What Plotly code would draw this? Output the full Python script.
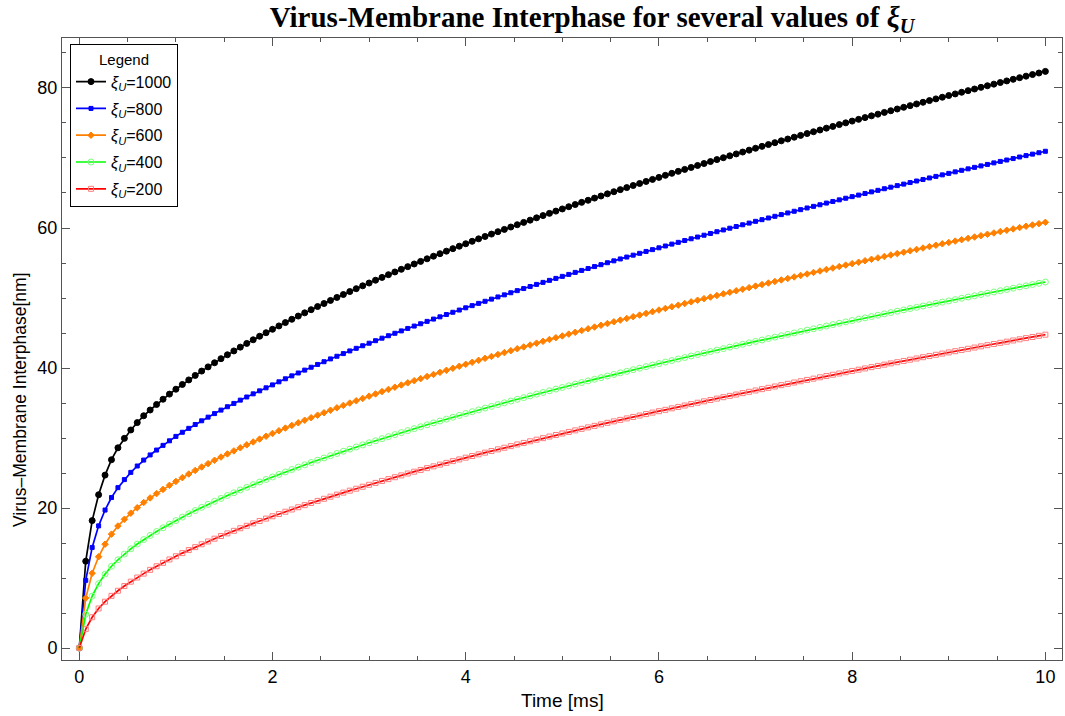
import plotly.graph_objects as go

# Sample times (ms): 151 evenly spaced samples from 0 to 10
time_ms = [round(i / 15, 4) for i in range(151)]

xi_1000 = [
    0, 12.4, 18.2, 21.9, 24.7, 26.9, 28.6, 29.95, 31.15, 32.2,
    33.18, 34.0, 34.79, 35.54, 36.27, 36.97, 37.65, 38.3, 38.94, 39.56,
    40.16, 40.75, 41.33, 41.89, 42.44, 42.98, 43.51, 44.03, 44.54, 45.04,
    45.53, 46.01, 46.49, 46.96, 47.42, 47.88, 48.33, 48.78, 49.21, 49.65,
    50.08, 50.5, 50.92, 51.33, 51.74, 52.14, 52.54, 52.94, 53.33, 53.72,
    54.1, 54.48, 54.86, 55.23, 55.6, 55.97, 56.33, 56.69, 57.05, 57.4,
    57.75, 58.1, 58.45, 58.79, 59.13, 59.47, 59.8, 60.14, 60.47, 60.8,
    61.12, 61.45, 61.77, 62.09, 62.41, 62.72, 63.04, 63.35, 63.66, 63.96,
    64.27, 64.57, 64.88, 65.18, 65.48, 65.77, 66.07, 66.36, 66.65, 66.94,
    67.23, 67.52, 67.81, 68.09, 68.37, 68.65, 68.93, 69.21, 69.49, 69.77,
    70.04, 70.31, 70.58, 70.85, 71.12, 71.39, 71.66, 71.92, 72.19, 72.45,
    72.71, 72.97, 73.23, 73.49, 73.75, 74.0, 74.26, 74.51, 74.77, 75.02,
    75.27, 75.52, 75.77, 76.02, 76.26, 76.51, 76.75, 77.0, 77.24, 77.48,
    77.72, 77.96, 78.2, 78.44, 78.68, 78.92, 79.15, 79.39, 79.62, 79.85,
    80.09, 80.32, 80.55, 80.78, 81.01, 81.24, 81.47, 81.69, 81.92, 82.14,
    82.37,
]

xi_800 = [
    0, 9.67, 14.37, 17.45, 19.71, 21.5, 22.91, 24.06, 25.09, 26.0,
    26.85, 27.58, 28.28, 28.95, 29.6, 30.23, 30.82, 31.38, 31.93, 32.46,
    32.98, 33.49, 33.99, 34.47, 34.94, 35.41, 35.86, 36.31, 36.74, 37.17,
    37.59, 38.03, 38.46, 38.88, 39.29, 39.7, 40.11, 40.51, 40.9, 41.3,
    41.68, 42.06, 42.44, 42.81, 43.18, 43.54, 43.9, 44.26, 44.61, 44.96,
    45.3, 45.65, 45.99, 46.32, 46.66, 46.99, 47.31, 47.64, 47.96, 48.28,
    48.6, 48.91, 49.23, 49.53, 49.84, 50.15, 50.45, 50.75, 51.05, 51.35,
    51.64, 51.94, 52.23, 52.52, 52.8, 53.09, 53.37, 53.66, 53.94, 54.21,
    54.49, 54.76, 55.04, 55.31, 55.58, 55.85, 56.12, 56.38, 56.65, 56.91,
    57.17, 57.43, 57.7, 57.95, 58.21, 58.46, 58.71, 58.97, 59.22, 59.47,
    59.72, 59.97, 60.21, 60.46, 60.7, 60.95, 61.19, 61.43, 61.67, 61.91,
    62.15, 62.39, 62.62, 62.86, 63.09, 63.32, 63.56, 63.79, 64.02, 64.25,
    64.48, 64.7, 64.93, 65.16, 65.38, 65.61, 65.83, 66.05, 66.27, 66.49,
    66.71, 66.93, 67.15, 67.37, 67.59, 67.8, 68.02, 68.24, 68.45, 68.66,
    68.87, 69.08, 69.3, 69.51, 69.71, 69.92, 70.14, 70.34, 70.55, 70.75,
    70.96,
]

xi_600 = [
    0, 7.13, 10.69, 13.04, 14.83, 16.27, 17.43, 18.39, 19.27, 20.05,
    20.79, 21.44, 22.06, 22.66, 23.24, 23.8, 24.34, 24.86, 25.37, 25.86,
    26.34, 26.82, 27.28, 27.73, 28.16, 28.6, 29.02, 29.44, 29.85, 30.25,
    30.65, 31.04, 31.42, 31.8, 32.17, 32.54, 32.9, 33.26, 33.61, 33.97,
    34.31, 34.66, 34.99, 35.32, 35.65, 35.98, 36.3, 36.63, 36.94, 37.26,
    37.57, 37.88, 38.19, 38.48, 38.79, 39.08, 39.38, 39.67, 39.96, 40.25,
    40.53, 40.82, 41.1, 41.38, 41.65, 41.93, 42.2, 42.47, 42.75, 43.01,
    43.28, 43.55, 43.81, 44.07, 44.33, 44.58, 44.84, 45.1, 45.35, 45.6,
    45.85, 46.1, 46.35, 46.6, 46.84, 47.08, 47.33, 47.56, 47.8, 48.04,
    48.28, 48.51, 48.75, 48.98, 49.21, 49.45, 49.68, 49.91, 50.13, 50.36,
    50.59, 50.81, 51.03, 51.26, 51.48, 51.7, 51.92, 52.14, 52.36, 52.58,
    52.79, 53.01, 53.22, 53.43, 53.65, 53.86, 54.07, 54.28, 54.49, 54.7,
    54.91, 55.11, 55.32, 55.53, 55.73, 55.93, 56.14, 56.34, 56.54, 56.74,
    56.94, 57.14, 57.34, 57.54, 57.74, 57.93, 58.13, 58.33, 58.52, 58.71,
    58.91, 59.1, 59.29, 59.49, 59.68, 59.87, 60.06, 60.25, 60.43, 60.62,
    60.81,
]

xi_400 = [
    0, 4.83, 7.42, 9.2, 10.56, 11.68, 12.61, 13.42, 14.17, 14.85,
    15.49, 16.08, 16.65, 17.18, 17.71, 18.21, 18.71, 19.18, 19.64, 20.09,
    20.52, 20.96, 21.37, 21.79, 22.18, 22.58, 22.96, 23.34, 23.72, 24.08,
    24.44, 24.8, 25.15, 25.5, 25.84, 26.17, 26.5, 26.83, 27.15, 27.48,
    27.79, 28.11, 28.41, 28.72, 29.02, 29.32, 29.61, 29.91, 30.2, 30.49,
    30.77, 31.06, 31.34, 31.61, 31.89, 32.16, 32.43, 32.7, 32.97, 33.23,
    33.5, 33.76, 34.02, 34.28, 34.52, 34.78, 35.03, 35.28, 35.53, 35.77,
    36.02, 36.27, 36.51, 36.75, 36.99, 37.22, 37.46, 37.7, 37.93, 38.16,
    38.39, 38.62, 38.86, 39.08, 39.31, 39.53, 39.76, 39.97, 40.2, 40.42,
    40.63, 40.85, 41.07, 41.29, 41.5, 41.72, 41.93, 42.14, 42.35, 42.56,
    42.77, 42.98, 43.18, 43.39, 43.6, 43.8, 44.0, 44.21, 44.41, 44.61,
    44.81, 45.01, 45.21, 45.41, 45.6, 45.8, 46.0, 46.2, 46.39, 46.58,
    46.78, 46.97, 47.16, 47.35, 47.54, 47.73, 47.92, 48.11, 48.3, 48.49,
    48.67, 48.86, 49.04, 49.23, 49.41, 49.59, 49.77, 49.96, 50.14, 50.32,
    50.5, 50.68, 50.86, 51.04, 51.22, 51.4, 51.58, 51.75, 51.93, 52.1,
    52.28,
]

xi_200 = [
    0, 2.7, 4.4, 5.65, 6.62, 7.45, 8.18, 8.85, 9.48, 10.07,
    10.63, 11.17, 11.68, 12.17, 12.65, 13.11, 13.56, 13.99, 14.41, 14.82,
    15.22, 15.62, 16.0, 16.38, 16.74, 17.11, 17.46, 17.81, 18.15, 18.49,
    18.82, 19.15, 19.47, 19.79, 20.11, 20.41, 20.72, 21.02, 21.32, 21.62,
    21.91, 22.2, 22.48, 22.76, 23.04, 23.32, 23.59, 23.87, 24.13, 24.4,
    24.66, 24.93, 25.19, 25.44, 25.7, 25.95, 26.2, 26.45, 26.7, 26.94,
    27.19, 27.43, 27.67, 27.91, 28.14, 28.38, 28.61, 28.84, 29.08, 29.3,
    29.53, 29.76, 29.98, 30.21, 30.43, 30.65, 30.87, 31.09, 31.31, 31.52,
    31.74, 31.95, 32.17, 32.38, 32.59, 32.8, 33.01, 33.21, 33.42, 33.63,
    33.83, 34.03, 34.24, 34.44, 34.64, 34.84, 35.04, 35.24, 35.43, 35.63,
    35.83, 36.02, 36.21, 36.41, 36.6, 36.79, 36.98, 37.17, 37.36, 37.55,
    37.74, 37.93, 38.11, 38.3, 38.48, 38.67, 38.85, 39.04, 39.22, 39.4,
    39.58, 39.76, 39.94, 40.12, 40.3, 40.48, 40.66, 40.83, 41.01, 41.19,
    41.36, 41.54, 41.71, 41.89, 42.06, 42.23, 42.4, 42.58, 42.75, 42.92,
    43.09, 43.26, 43.43, 43.6, 43.76, 43.93, 44.1, 44.27, 44.43, 44.6,
    44.76,
]

xi_labels = ["1000", "800", "600", "400", "200"]

# label, values, line colour, marker symbol, marker size, marker colour
series = [
    (xi_labels[0], xi_1000, "#000000", "circle", 6, "#000000"),
    (xi_labels[1], xi_800, "#0000ff", "square", 4, "#0000ff"),
    (xi_labels[2], xi_600, "#ff8000", "diamond", 5, "#ff8000"),
    (xi_labels[3], xi_400, "#00ff00", "circle-open", 6, "#7dff7d"),
    (xi_labels[4], xi_200, "#ff0000", "square-open", 5, "#ff7d7d"),
]

fig = go.Figure()
for label, values, color, symbol, size, mcolor in series:
    fig.add_trace(go.Scatter(
        x=time_ms, y=values, mode="lines+markers",
        name=f"<i>ξ</i><sub><i>U</i></sub>={label}",
        legendgroup=label,
        line=dict(color=color, width=1.7),
        marker=dict(symbol=symbol, size=size, color=mcolor,
                    line=dict(width=1, color=mcolor)),
    ))

frame = "#555555"
fig.update_xaxes(
    range=[-0.179, 10.172], showgrid=False, zeroline=False,
    showline=True, linecolor=frame, linewidth=1, mirror="ticks",
    ticks="inside", ticklen=8, tickcolor=frame, tickwidth=1,
    tick0=0, dtick=2, tickfont=dict(size=18, color="black"),
    minor=dict(ticks="inside", ticklen=4, dtick=0.5, tickcolor=frame),
)
fig.update_yaxes(
    range=[-1.71, 87.14], showgrid=False, zeroline=False,
    showline=True, linecolor=frame, linewidth=1, mirror="ticks",
    ticks="inside", ticklen=8, tickcolor=frame, tickwidth=1,
    tick0=0, dtick=20, tickfont=dict(size=18, color="black"),
    minor=dict(ticks="inside", ticklen=4, dtick=5, tickcolor=frame),
)

fig.update_layout(
    width=1065, height=716,
    margin=dict(l=62, r=3, t=38, b=56),
    paper_bgcolor="white", plot_bgcolor="white",
    font=dict(family="Liberation Sans, Arial, sans-serif", color="black"),
    title=dict(
        text="<b>Virus-Membrane Interphase for several values of "
             "<i>ξ</i><sub><i>U</i></sub></b>",
        x=592 / 1065, xref="container", xanchor="center",
        y=1 - 17 / 716, yref="container", yanchor="middle",
        font=dict(family="Liberation Serif, Times New Roman, serif",
                  size=29, color="black"),
    ),
    legend=dict(
        x=0.008, y=0.99, xanchor="left", yanchor="top",
        bgcolor="white", bordercolor="black", borderwidth=1,
        font=dict(size=16, color="black"),
        title=dict(text="Legend", side="top center",
                   font=dict(size=15, color="black")),
        itemwidth=30, tracegroupgap=3,
    ),
    annotations=[
        dict(text="Time [ms]", xref="paper", yref="paper",
             x=0.5, y=0.0, yshift=-40, xanchor="center",
             yanchor="middle", showarrow=False,
             font=dict(size=19, color="black")),
        dict(text="Virus–Membrane Interphase[nm]", xref="paper", yref="paper",
             x=0, xshift=-42, y=(660 - 400) / 622, xanchor="center",
             yanchor="middle", textangle=-90, showarrow=False,
             font=dict(size=17.5, color="black")),
    ],
)

fig.write_html("out.html")
